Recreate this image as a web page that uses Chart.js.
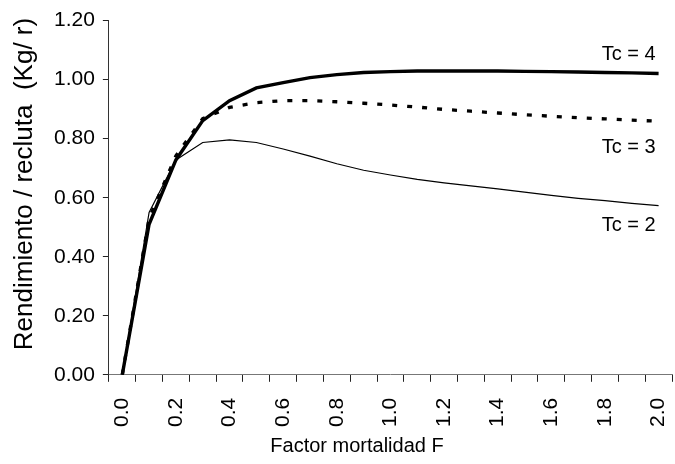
<!DOCTYPE html>
<html>
<head>
<meta charset="utf-8">
<script src="https://cdn.jsdelivr.net/npm/chart.js@4.4.0/dist/chart.umd.min.js"></script>
<style>
  html, body { margin: 0; padding: 0; background: #fff; }
</style>
</head>
<body>
<canvas id="yieldChart" width="675" height="464"></canvas>
<script>
// factor de mortalidad F (categorias)
const fLabels = ['0.0', '0.1', '0.2', '0.3', '0.4', '0.5', '0.6', '0.7', '0.8', '0.9', '1.0',
                 '1.1', '1.2', '1.3', '1.4', '1.5', '1.6', '1.7', '1.8', '1.9', '2.0'];

// rendimiento / recluta (Kg/r)
const tc4 = [0, 0.51, 0.728, 0.861, 0.929, 0.972, 0.990, 1.007, 1.017, 1.024, 1.027,
             1.029, 1.029, 1.029, 1.029, 1.028, 1.027, 1.026, 1.024, 1.023, 1.021];
const tc3 = [0, 0.53, 0.742, 0.868, 0.906, 0.922, 0.929, 0.929, 0.925, 0.920, 0.914,
             0.907, 0.899, 0.893, 0.887, 0.881, 0.876, 0.871, 0.867, 0.863, 0.859];
const tc2 = [0, 0.55, 0.728, 0.787, 0.796, 0.787, 0.765, 0.741, 0.715, 0.693, 0.677,
             0.662, 0.650, 0.640, 0.630, 0.619, 0.608, 0.598, 0.590, 0.581, 0.573];

const seriesNames = ['Tc = 4', 'Tc = 3', 'Tc = 2'];
const labelAnchor = [1.085, 0.770, 0.505];   // valor y donde va cada etiqueta

const yTitle = 'Rendimiento / recluta  (Kg/ r)';
const xTitle = 'Factor mortalidad F';

const FONT = '"Liberation Sans", Arial, sans-serif';

// titulos y etiquetas de curvas
const textPlugin = {
    id: 'textPlugin',
    afterDraw(chart) {
        const ctx = chart.ctx;
        const xs = chart.scales.x;
        const ys = chart.scales.y;
        ctx.save();
        ctx.fillStyle = '#000';
        ctx.textBaseline = 'middle';

        ctx.font = '20px ' + FONT;
        ctx.textAlign = 'right';
        const xEnd = xs.getPixelForValue(fLabels.length - 1) - 3;
        seriesNames.forEach((name, i) => {
            ctx.fillText(name, xEnd, ys.getPixelForValue(labelAnchor[i]));
        });

        ctx.textAlign = 'center';
        ctx.fillText(xTitle, 357, 446);

        ctx.font = '26px ' + FONT;
        ctx.translate(25, 184);
        ctx.rotate(-Math.PI / 2);
        ctx.fillText(yTitle, 0, 0);
        ctx.restore();
    }
};

new Chart(document.getElementById('yieldChart'), {
    type: 'line',
    data: {
        labels: fLabels,
        datasets: [
            {
                label: seriesNames[0],
                data: tc4,
                borderColor: '#000',
                borderWidth: 3.4,
                pointRadius: 0,
                tension: 0
            },
            {
                label: seriesNames[1],
                data: tc3,
                borderColor: '#000',
                borderWidth: 3.3,
                borderDash: [5, 10],
                borderCapStyle: 'butt',
                pointRadius: 0,
                tension: 0
            },
            {
                label: seriesNames[2],
                data: tc2,
                borderColor: '#000',
                borderWidth: 1.2,
                pointRadius: 0,
                tension: 0
            }
        ]
    },
    options: {
        responsive: false,
        animation: false,
        devicePixelRatio: 1,
        layout: { padding: { left: 46, right: 3, top: 20, bottom: 21 } },
        plugins: {
            legend: { display: false },
            tooltip: { enabled: false }
        },
        scales: {
            x: {
                type: 'category',
                offset: true,
                border: { display: true, color: '#777', width: 1 },
                grid: {
                    offset: true,
                    drawOnChartArea: false,
                    drawTicks: true,
                    tickLength: 7,
                    tickColor: '#222'
                },
                ticks: {
                    autoSkip: false,
                    minRotation: 90,
                    maxRotation: 90,
                    padding: 16,
                    color: '#000',
                    font: { family: FONT, size: 21 },
                    callback: function (val, idx) {
                        return idx % 2 === 0 ? fLabels[idx] : '';
                    }
                },
                afterFit: function (scale) {
                    // sin margen extra para la etiqueta girada del final
                    scale.paddingLeft = 0;
                    scale.paddingRight = 0;
                }
            },
            y: {
                min: 0,
                max: 1.2,
                border: { display: true, color: '#333', width: 1 },
                grid: {
                    drawOnChartArea: false,
                    drawTicks: true,
                    tickLength: 6,
                    tickColor: '#222'
                },
                ticks: {
                    stepSize: 0.2,
                    padding: 8,
                    color: '#000',
                    font: { family: FONT, size: 21 },
                    callback: v => v.toFixed(2)
                }
            }
        }
    },
    plugins: [textPlugin]
});
</script>
</body>
</html>
